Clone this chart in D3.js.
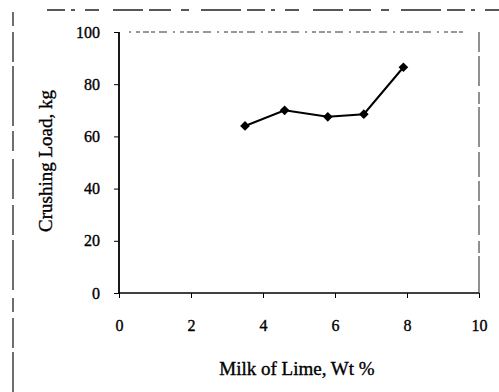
<!DOCTYPE html>
<html>
<head>
<meta charset="utf-8">
<script src="https://cdn.jsdelivr.net/npm/d3@7"></script>
<style>
  body { margin: 0; background: #fff; }
  svg { display: block; font-family: "Liberation Serif", "Times New Roman", serif; }
  svg text { stroke: #000; stroke-width: 0.35px; }
</style>
</head>
<body>
<svg id="chart" width="499" height="392"></svg>
<script>
// values
const milkOfLime = [3.5, 4.6, 5.8, 6.8, 7.9];
const crushingLoad = [64, 70, 67.5, 68.5, 86.5];
const xTicks = [0, 2, 4, 6, 8, 10];
const yTicks = [0, 20, 40, 60, 80, 100];

const svg = d3.select("#chart");
const margin = { left: 119, right: 20, top: 32, bottom: 99 };
const width = 499, height = 392;

const x = d3.scaleLinear().domain([0, 10]).range([margin.left, width - margin.right]);
const y = d3.scaleLinear().domain([0, 100]).range([height - margin.bottom, margin.top]);

// scanned frame around the figure
svg.append("line")
  .attr("x1", 47).attr("x2", 499).attr("y1", 10).attr("y2", 10)
  .attr("stroke", "#222").attr("stroke-width", 1.3)
  .attr("stroke-dasharray", "18 6 4 10 14 14 30 6 22 10 8 12 40 6");
svg.append("line")
  .attr("x1", 13).attr("x2", 13).attr("y1", 12).attr("y2", 392)
  .attr("stroke", "#222").attr("stroke-width", 1.3)
  .attr("stroke-dasharray", "14 6 30 4 60 5 20 8 40 6 30 5 50 8");

// top and right borders of the plot box
svg.append("line")
  .attr("x1", x(0) + 10).attr("x2", x(10) - 14).attr("y1", y(100)).attr("y2", y(100))
  .attr("stroke", "#333").attr("stroke-width", 1)
  .attr("stroke-dasharray", "2 5 4 3 6 2 4 4 8 6");
svg.append("line")
  .attr("x1", x(10)).attr("x2", x(10)).attr("y1", y(100)).attr("y2", y(0))
  .attr("stroke", "#222").attr("stroke-width", 1)
  .attr("stroke-dasharray", "20 4 30 6 12 3 40 5 25 4");

const tickFont = "16px";

const xAxis = svg.append("g")
  .attr("transform", `translate(0,${y(0)})`)
  .call(d3.axisBottom(x).tickValues(xTicks).tickSize(5).tickPadding(22).tickFormat(d3.format("d")));
xAxis.select(".domain").attr("stroke-width", 1.4).attr("d", `M${x(0)},0H${x(10)}`);
xAxis.selectAll("text").attr("font-size", tickFont).attr("font-family", "Liberation Serif");

const yAxis = svg.append("g")
  .attr("transform", `translate(${x(0)},0)`)
  .call(d3.axisLeft(y).tickValues(yTicks).tickSize(5).tickPadding(14).tickFormat(d3.format("d")));
yAxis.select(".domain").attr("stroke-width", 1.8).attr("d", `M0,${y(0)}V${y(100)}`);
yAxis.selectAll("text").attr("font-size", tickFont).attr("font-family", "Liberation Serif");

// axis titles
svg.append("text")
  .attr("x", 297).attr("y", 375)
  .attr("text-anchor", "middle")
  .attr("font-size", "19px")
  .text("Milk of Lime, Wt %");
svg.append("text")
  .attr("transform", `translate(52,161) rotate(-90)`)
  .attr("text-anchor", "middle")
  .attr("font-size", "19px")
  .text("Crushing Load, kg");

// data line and markers
const pts = milkOfLime.map((v, i) => [v, crushingLoad[i]]);
svg.append("path")
  .datum(pts)
  .attr("fill", "none").attr("stroke", "#000").attr("stroke-width", 2)
  .attr("d", d3.line().x(d => x(d[0])).y(d => y(d[1])));
svg.append("g").selectAll("path")
  .data(pts)
  .join("path")
  .attr("transform", d => `translate(${x(d[0])},${y(d[1])})`)
  .attr("d", d3.symbol(d3.symbolDiamond2, 60))
  .attr("fill", "#000");
</script>
</body>
</html>
